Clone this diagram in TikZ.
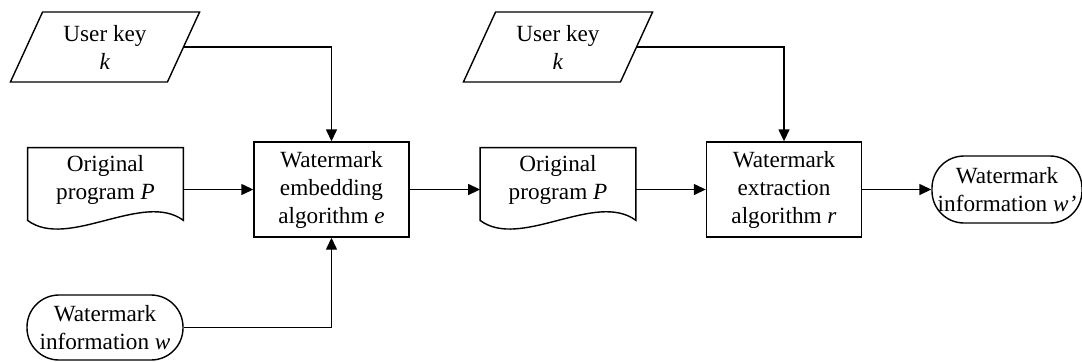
\documentclass[tikz,border=0pt]{standalone}
\usepackage{fontspec}
\setmainfont{Liberation Serif}
\usetikzlibrary{arrows.meta, positioning, shapes.geometric}

\begin{document}
\begin{tikzpicture}[x=0.5pt, y=-0.5pt,
  every node/.style={font=\fontsize{11.6}{14}\selectfont, align=center, inner sep=1pt},
  box/.style={rectangle, draw, line width=0.7pt, minimum width=77.5pt, minimum height=47.5pt},
  keybox/.style={trapezium, trapezium left angle=65, trapezium right angle=115,
                 trapezium stretches=true, draw, line width=0.7pt,
                 minimum width=95pt, minimum height=35pt},
  docbox/.style={rectangle, minimum width=77.5pt, minimum height=32pt},
  termbox/.style={rectangle, rounded corners=16pt, draw, line width=0.7pt,
                  minimum width=78pt, minimum height=32.5pt},
  arr/.style={-{Triangle[length=6pt, width=5.5pt]}, line width=0.7pt}
]
  \useasboundingbox (0,0) rectangle (1082,361);

  \node[keybox] (key1) at (105,47) {User key\\\textit{k}};
  \node[docbox] (doc1) at (105.5,180) {Original\\program \textit{P}};
  \node[termbox] (info1) at (105,327.5) {Watermark\\information \textit{w}};
  \node[box] (emb) at (331.5,189.5) {Watermark\\embedding\\algorithm \textit{e}};

  \node[keybox] (key2) at (558,47) {User key\\\textit{k}};
  \node[docbox] (doc2) at (558,180) {Original\\program \textit{P}};
  \node[box] (ext) at (784,189.5) {Watermark\\extraction\\algorithm \textit{r}};
  \node[termbox, minimum height=33.5pt, minimum width=75pt] (info2) at (1007,189.5) {Watermark\\information \textit{w'}};

  \foreach \d in {doc1,doc2}
    \draw[line width=0.7pt] (\d.north west) -- (\d.north east) -- ([yshift=-4pt]\d.south east)
      .. controls +(-40,-30) and +(40,30) .. ([yshift=-4pt]\d.south west) -- cycle;

  \draw[arr] (key1.east) -| (emb.north);
  \draw[arr] (doc1.east |- emb.west) -- (emb.west);
  \draw[arr] (info1.east) -| (emb.south);
  \draw[arr] (emb.east) -- (doc2.west |- emb.east);
  \draw[arr] (key2.east) -| (ext.north);
  \draw[arr] (doc2.east |- ext.west) -- (ext.west);
  \draw[arr] (ext.east) -- (info2.west);
\end{tikzpicture}
\end{document}
